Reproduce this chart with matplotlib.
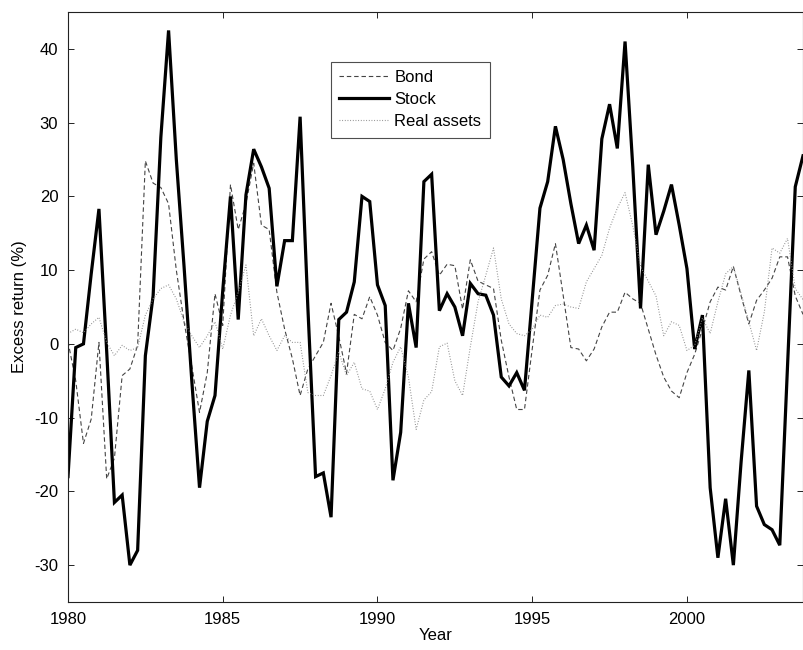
import numpy as np
import matplotlib
matplotlib.use("Agg")
import matplotlib.pyplot as plt

plt.rcParams['font.family'] = ['Liberation Sans', 'DejaVu Sans']
plt.rcParams['axes.unicode_minus'] = False

start_year = 1980.0
n_quarters = 96
years = start_year + np.arange(n_quarters) / 4.0

stock = [-18, -0.5, 0, 9.5, 18.3, -1, -21.5, -20.5, -30, -28, -1.6, 6.5,
         28, 42.5, 25, 10.5, -5, -19.5, -10.5, -7, 7.2, 20, 3.3, 20.2,
         26.4, 24, 21.1, 7.8, 14, 14, 30.8, 5, -18, -17.5, -23.5, 3.3,
         4.3, 8.4, 20, 19.3, 8, 5.2, -18.5, -12, 5.5, -0.5, 22, 23,
         4.5, 6.8, 5, 1.1, 8.2, 6.8, 6.6, 3.9, -4.5, -5.7, -3.9, -6.3,
         6, 18.4, 22, 29.5, 25, 19, 13.6, 16.1, 12.7, 27.8, 32.5, 26.5,
         41, 24, 4.8, 24.3, 14.8, 18, 21.6, 16.1, 10.2, -0.7, 3.9, -19.5,
         -29, -21, -30, -16, -3.6, -22, -24.5, -25.2, -27.3, -3, 21.3, 25.5]

bond = [0.3, -5, -13.5, -10.2, 0.2, -18.3, -15.5, -4.3, -3.4, -0.2, 24.8, 21.8,
        21.2, 19, 10, 3, -3, -9.3, -3.9, 6.8, 2.5, 21.6, 15.5, 19,
        24.5, 16.1, 15.5, 7, 2, -2, -7, -3.4, -1.6, 0.2, 5.5, 1,
        -4, 4, 3.4, 6.4, 3.9, 0.2, -0.9, 2.1, 7.2, 5.7, 11.5, 12.5,
        9.3, 10.8, 10.6, 4.7, 11.4, 8.5, 8, 7.5, 0.5, -4.5, -8.9, -8.9,
        -0.7, 7.3, 9.3, 13.6, 6.6, -0.5, -0.7, -2.3, -0.7, 2.3, 4.3, 4.3,
        7, 6.1, 5.5, 2, -1.5, -4.5, -6.4, -7.3, -3.9, -1.4, 2, 5.7,
        7.7, 7.3, 10.5, 6.5, 2.7, 5.9, 7.3, 8.9, 11.8, 11.8, 6.5, 4]

real_assets = [1.4, 2, 1.5, 2.7, 3.6, 0.2, -1.6, -0.2, -0.9, -0.5, 3.9, 6.1,
               7.5, 8, 6.1, 3, 1.1, -0.5, 1.1, 3, -0.7, 3.9, 7, 10.7,
               1.1, 3.4, 1.1, -0.9, 1.1, 0.2, 0.2, -6.6, -7, -7, -4.3, -1.1,
               -4.3, -2.5, -6.1, -6.4, -8.9, -6.1, -2.5, -0.4, -4.5, -11.6, -7.6, -6.5,
               -0.4, 0.1, -5, -7, -0.4, 5.7, 9.3, 13, 6.1, 2.7, 1.4, 1.1,
               2, 3.9, 3.6, 5.2, 5.4, 5, 4.8, 8.4, 10.2, 12, 15.7, 18.4,
               20.5, 16, 10.5, 8.5, 6.5, 1.1, 3, 2.5, -0.9, -0.2, 3.5, 1.4,
               5.7, 9.5, 10.5, 6.8, 3, -0.9, 4.3, 13, 12.3, 14.3, 7.5, 6]

series_labels = ["Bond", "Stock", "Real assets"]
x_ticks = [1980, 1985, 1990, 1995, 2000]
y_ticks = [-30, -20, -10, 0, 10, 20, 30, 40]

fig = plt.figure(figsize=(8.04, 6.50), dpi=100)
ax = fig.add_axes([68/804, 1 - 602/650, (803 - 68)/804, (602 - 12)/650])

l1, = ax.plot(years, bond, color='#444444', lw=0.8, label=series_labels[0])
l1.set_dashes([4.0, 2.6])
ax.plot(years, stock, color='black', lw=2.3, label=series_labels[1], solid_joinstyle='miter')
ax.plot(years, real_assets, color='#8a8a8a', lw=0.8, linestyle=(0, (0.8, 1.6)), label=series_labels[2])

ax.set_xlim(1980, 2003.75)
ax.set_ylim(-35, 45)
ax.set_xticks(x_ticks)
ax.set_yticks(y_ticks)
ax.tick_params(direction='in', length=4, width=0.6, top=True, right=True, labelsize=12, pad=7)
for s in ax.spines.values():
    s.set_linewidth(0.8)
    s.set_color('#222222')
ax.set_xlabel("Year", fontsize=12, labelpad=1)
ax.set_ylabel("Excess return (%)", fontsize=12, labelpad=5)

leg = ax.legend(loc='upper left', bbox_to_anchor=((331 - 68)/735, 1 - (62 - 12)/590),
                fontsize=12, frameon=True, fancybox=False, edgecolor='#222222',
                borderpad=0.5, labelspacing=0.42, handlelength=3.0, handletextpad=0.3,
                borderaxespad=0)
leg.get_frame().set_linewidth(0.8)

fig.savefig("out.png", dpi=100)
